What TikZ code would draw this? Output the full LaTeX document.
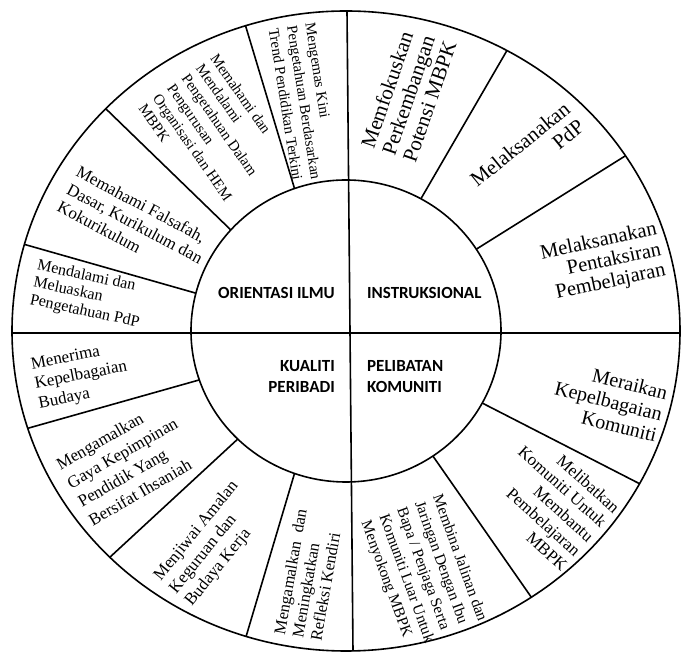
\documentclass[tikz,border=0pt]{standalone}
\usepackage{fontspec}
\setmainfont{Liberation Serif}
\newfontfamily\hfont{Carlito}
\usepackage{tikz}
\tikzset{
	ln/.style = { line width=1.6pt },
	sz/.style 2 args = { font=\fontsize{#1}{#2}\selectfont },
	itm/.style = { inner sep=0pt },
	lft/.style = { itm, align=left },
	rgt/.style = { itm, align=right },
	head/.style = { inner sep=0pt, font=\hfont\bfseries\fontsize{17}{21}\selectfont },
}

\begin{document}
\begin{tikzpicture}[x=1pt,y=1pt]
\path[fill=white,use as bounding box] (0,0) rectangle (681,653);

\begin{scope}[shift={(346,322)}]
% rings and axes
\draw[ln] (0,0) ellipse [x radius=334, y radius=320];
\draw[ln] (0,0) ellipse [x radius=155, y radius=151];
\draw[ln] (-334,-2) -- (334,-2);
\draw[ln] (1,320) -- (7,-320);
\foreach \a/\b in {165.5/164.3, 138/136, 109.4/107.5, 61.1/61.2, 32.8/33.2,
	198.9/197.7, 225.7/225, 250.6/252.6, 331.5/331.5, 304.1/303.7}
	\draw[ln] (\a:155 and 151) -- (\b:334 and 320);

% centre
\node (ilmu) [head,anchor=east]  at (-11,38)  {ORIENTASI ILMU};
\node (inst) [head,anchor=west]  at (21,38)   {INSTRUKSIONAL};
\node (kual) [head,anchor=north east,align=right] at (-11,-29) {KUALITI\\PERIBADI};
\node (peli) [head,anchor=north west,align=left]  at (21,-29)  {PELIBATAN\\KOMUNITI};

% orientasi ilmu
\node (pdp)  [lft,sz={16}{17.5},rotate=-12] at (-257.7,36.2) {Mendalami dan\\Meluaskan\\Pengetahuan PdP};
\node (fal)  [lft,sz={17}{20},rotate=-28]   at (-211,107.5)  {Memahami Falsafah,\\Dasar, Kurikulum dan\\Kokurikulum};
\node (org)  [lft,sz={15}{17.5},rotate=-55] at (-131.6,198.8) {Memahami dan\\Mendalami\\Pengetahuan Dalam\\Pengurusan\\Organisasi dan HEM\\MBPK};
\node (trend)[lft,sz={15}{18.5},rotate=-81] at (-42,228.5)   {Mengemas Kini\\Pengetahuan Berdasarkan\\Trend Pendidikan Terkini};

% instruksional
\node (pot)  [lft,sz={21}{22},rotate=71]    at (62.5,236.5)  {Memfokuskan\\Perkembangan\\Potensi MBPK};
\node (lak)  [rgt,sz={21}{22.5},rotate=39]  at (181,178)     {Melaksanakan\\PdP};
\node (taks) [rgt,sz={20.5}{21},rotate=12]  at (257,68.5)    {Melaksanakan\\Pentaksiran\\Pembelajaran};

% pelibatan komuniti
\node (rai)  [rgt,sz={20}{22},rotate=-14]   at (262.5,-70)   {Meraikan\\Kepelbagaian\\Komuniti};
\node (libat)[rgt,sz={17}{19.5},rotate=-42] at (203.5,-170)  {Melibatkan\\Komuniti Untuk\\Membantu\\Pembelajaran\\MBPK};
\node (bina) [lft,sz={15.5}{19},rotate=-70] at (77.7,-241)   {Membina Jalinan dan\\Jaringan Dengan Ibu\\Bapa / Penjaga Serta\\Komuniti Luar Untuk\\Menyokong MBPK};

% kualiti peribadi
\node (ref)  [lft,sz={16.5}{18.5},rotate=80] at (-37.5,-244) {Mengamalkan\ \ dan\\Meningkatkan\\Refleksi Kendiri};
\node (jiwa) [lft,sz={17}{20},rotate=51]    at (-134,-212.8) {Menjiwai Amalan\\Keguruan dan\\Budaya Kerja};
\node (gaya) [lft,sz={17}{21.5},rotate=30]  at (-218.4,-131.3) {Mengamalkan\\Gaya Kepimpinan\\Pendidik Yang\\Bersifat Ihsaniah};
\node (bud)  [lft,sz={17}{20},rotate=11]    at (-265,-45)    {Menerima\\Kepelbagaian\\Budaya};
\end{scope}

\end{tikzpicture}
\end{document}
